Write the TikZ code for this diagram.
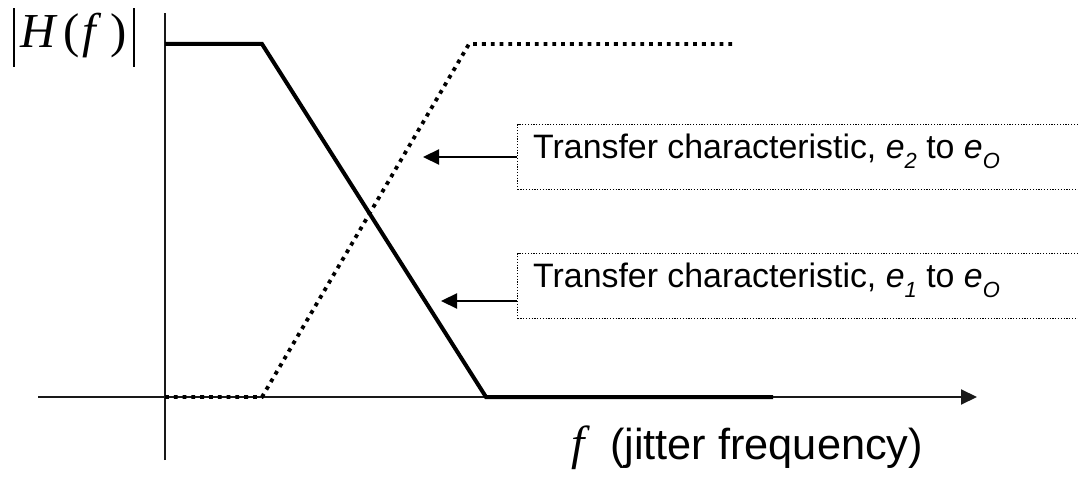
\documentclass[tikz,border=0pt]{standalone}
\usepackage{fontspec}
\setmainfont{Liberation Sans}
\newfontfamily\timesfont{Liberation Serif}
\usetikzlibrary{arrows.meta}

\begin{document}
\begin{tikzpicture}[x=1bp,y=-1bp,
  axisline/.style={line width=2bp, draw=black!90},
  curve/.style={line width=4bp, line join=miter},
  dotcurve/.style={line width=3.8bp, dash pattern=on 3.8bp off 5bp},
  labelbox/.style={draw, line width=1.2bp, dash pattern=on 1.2bp off 1.6bp,
    anchor=north west, minimum width=620bp, minimum height=65bp, inner sep=0pt},
  labeltext/.style={anchor=base west, inner sep=0pt,
    font=\fontsize{34}{40}\selectfont},
  pointer/.style={line width=2.2bp, -{Triangle[length=16bp,width=15bp]}}
]
\useasboundingbox (0,0) rectangle (1078,478);

% axes
\coordinate (ybot) at (165,460);
\coordinate (ytop) at (165,13);
\coordinate (xleft) at (38,397);
\coordinate (xright) at (977,397);
\draw[axisline] (ybot) -- (ytop);
\draw[axisline, -{Triangle[length=16bp,width=15bp]}] (xleft) -- (xright);

% e1 -> eO : low-pass characteristic
\coordinate (s0) at (165,44);
\coordinate (s1) at (262,44);
\coordinate (s2) at (486,397);
\coordinate (s3) at (773,397);
\draw[curve] (s0) -- (s1) -- (s2) -- (s3);

% e2 -> eO : high-pass characteristic
\coordinate (d0) at (165,397);
\coordinate (d1) at (262,397);
\coordinate (d2) at (469,44);
\coordinate (d3) at (737,44);
\draw[dotcurve] (d0) -- (d1) -- (d2) -- (d3);

% axis labels
\node[anchor=base west, inner sep=0pt, font=\timesfont\fontsize{49}{54}\selectfont] (hlab) at (13,48)
  {\vrule width 1.6bp height 40bp depth 19bp\kern6bp\textit{H}\kern5bp(\kern3bp\textit{f}\kern9bp)\kern6bp\vrule width 1.6bp height 40bp depth 19bp};
\node[anchor=base west, inner sep=0pt] (flab) at (571,459)
  {{\timesfont\fontsize{48}{54}\selectfont\textit{f}}\hspace{20bp}{\fontsize{43.5}{48}\selectfont(jitter frequency)}};

% callout boxes
\node[labelbox] (box2) at (517,124) {};
\node[labelbox] (box1) at (517,253) {};
\node[labeltext] (txt2) at (533,159)
  {Transfer characteristic, \textit{e\raisebox{-0.28em}{\fontsize{22}{24}\selectfont 2}} to \textit{e\raisebox{-0.28em}{\fontsize{22}{24}\selectfont O}}};
\node[labeltext] (txt1) at (533,288)
  {Transfer characteristic, \textit{e\raisebox{-0.28em}{\fontsize{22}{24}\selectfont 1}} to \textit{e\raisebox{-0.28em}{\fontsize{22}{24}\selectfont O}}};

% pointers to the curves
\coordinate (tip2) at (423,157);
\coordinate (tip1) at (441,301);
\draw[pointer] (box2.west |- tip2) -- (tip2);
\draw[pointer] (box1.west |- tip1) -- (tip1);
\end{tikzpicture}
\end{document}
